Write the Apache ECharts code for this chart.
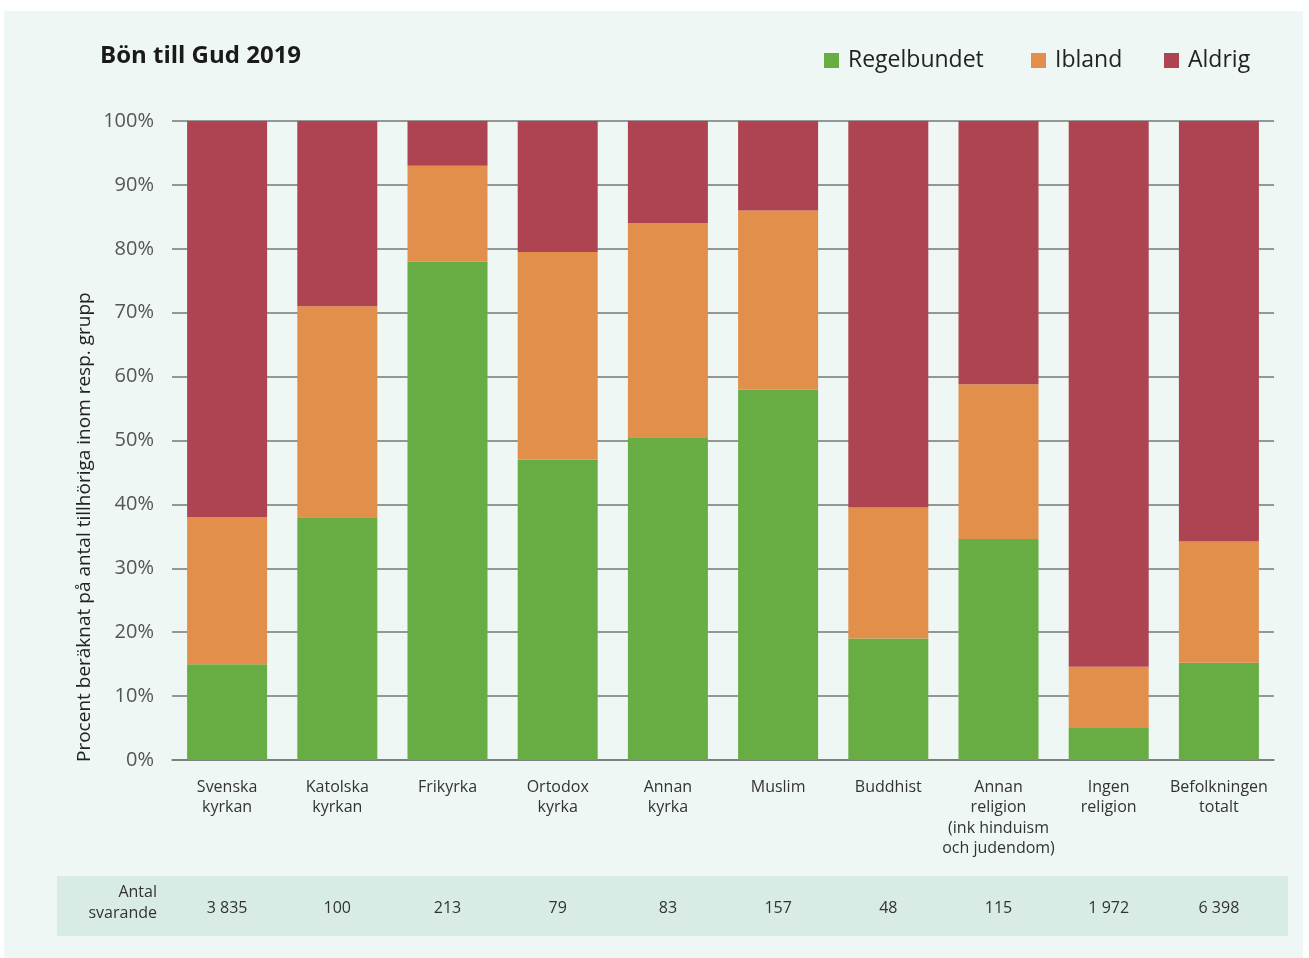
<!DOCTYPE html>
<html>
<head>
<meta charset="utf-8">
<script src="https://cdn.jsdelivr.net/npm/echarts@6/dist/echarts.min.js"></script>
<style>
  html, body { margin: 0; padding: 0; background: #ffffff; }
  #chart { width: 1309px; height: 958px; }
</style>
</head>
<body>
<div id="chart"></div>
<script>
const categories = [
  'Svenska\nkyrkan', 'Katolska\nkyrkan', 'Frikyrka', 'Ortodox\nkyrka', 'Annan\nkyrka',
  'Muslim', 'Buddhist', 'Annan\nreligion\n(ink hinduism\noch judendom)', 'Ingen\nreligion', 'Befolkningen\ntotalt'
];
const regelbundet = [15, 38, 78, 47, 50.5, 58, 19, 34.6, 5, 15.2];
const ibland      = [23, 33, 15, 32.5, 33.5, 28, 20.5, 24.2, 9.6, 19];
const aldrig      = [62, 29, 7, 20.5, 16, 14, 60.5, 41.2, 85.4, 65.8];
const antalSvarande = ['3 835', '100', '213', '79', '83', '157', '48', '115', '1 972', '6 398'];
const seriesNames = ['Regelbundet', 'Ibland', 'Aldrig'];

const XFONT = '"Open Sans", Lato, sans-serif';
const chart = echarts.init(document.getElementById('chart'));

const legendLefts = [819, 1026, 1159];

chart.setOption({
  backgroundColor: '#ffffff',
  animation: false,
  graphic: [
    { type: 'rect', silent: true, z: -10, shape: { x: 4, y: 11, width: 1299, height: 947 }, style: { fill: '#EEF7F3' } },
    { type: 'rect', silent: true, z: -9, shape: { x: 57, y: 876, width: 1231, height: 60 }, style: { fill: '#D8ECE5' } },
    { type: 'text', x: 100, y: 44, style: { text: 'Bön till Gud 2019', font: 'bold 24px "Open Sans", sans-serif', fill: '#1a1a1a' } },
    { type: 'text', x: 157, y: 884, style: { text: 'Antal', font: '16px ' + XFONT, fill: '#333', align: 'right' } },
    { type: 'text', x: 157, y: 905, style: { text: 'svarande', font: '16px ' + XFONT, fill: '#333', align: 'right' } },
    { type: 'text', x: 75, y: 762, rotation: Math.PI / 2,
      style: { text: 'Procent beräknat på antal tillhöriga inom resp. grupp', font: '19px "Open Sans", sans-serif', fill: '#222', align: 'left', verticalAlign: 'top' } }
  ],
  legend: seriesNames.map((n, i) => ({
    left: legendLefts[i], top: 44,
    itemWidth: 15, itemHeight: 15, itemGap: 10,
    icon: 'rect',
    textStyle: { fontFamily: XFONT, fontSize: 23, color: '#222', padding: [0, 0, 0, 4] },
    data: [n]
  })),
  grid: { left: 172, right: 35, top: 121, bottom: 198 },
  xAxis: [
    {
      type: 'category', data: categories,
      axisLine: { show: true, lineStyle: { color: '#777', width: 1.5 } },
      axisTick: { show: false },
      axisLabel: { fontFamily: XFONT, fontSize: 16, color: '#333', lineHeight: 20.5, margin: 17, interval: 0 }
    },
    {
      type: 'category', data: antalSvarande, position: 'bottom', offset: 132,
      axisLine: { show: false }, axisTick: { show: false },
      axisLabel: { fontFamily: XFONT, fontSize: 16, color: '#333', interval: 0 }
    }
  ],
  yAxis: {
    type: 'value', min: 0, max: 100, interval: 10,
    axisLine: { show: false }, axisTick: { show: false },
    axisLabel: { formatter: '{value}%', fontFamily: XFONT, fontSize: 20, color: '#555', margin: 18 },
    splitLine: { lineStyle: { color: '#777', width: 1.5 } }
  },
  series: [
    { name: 'Regelbundet', type: 'bar', stack: 'a', data: regelbundet, barWidth: 80, itemStyle: { color: '#68AC44' } },
    { name: 'Ibland', type: 'bar', stack: 'a', data: ibland, barWidth: 80, itemStyle: { color: '#E28F4B' } },
    { name: 'Aldrig', type: 'bar', stack: 'a', data: aldrig, barWidth: 80, itemStyle: { color: '#AE4451' } }
  ]
});
</script>
</body>
</html>
